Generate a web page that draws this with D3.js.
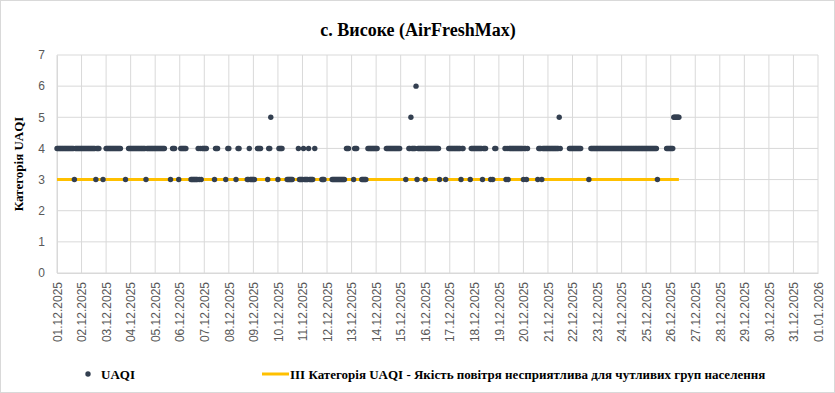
<!DOCTYPE html>
<html>
<head>
<meta charset="utf-8">
<script src="https://cdn.jsdelivr.net/npm/d3@7"></script>
<style>
body { margin: 0; background: #fff; }
svg { display: block; }
</style>
</head>
<body>
<div id="chart"></div>
<script>
// x axis tick labels (one per day)
var dayLabels = ["01.12.2025","02.12.2025","03.12.2025","04.12.2025","05.12.2025","06.12.2025","07.12.2025","08.12.2025",
"09.12.2025","10.12.2025","11.12.2025","12.12.2025","13.12.2025","14.12.2025","15.12.2025","16.12.2025","17.12.2025",
"18.12.2025","19.12.2025","20.12.2025","21.12.2025","22.12.2025","23.12.2025","24.12.2025","25.12.2025","26.12.2025",
"27.12.2025","28.12.2025","29.12.2025","30.12.2025","31.12.2025","01.01.2026"]
// hourly UAQI category, one string per day (00h..23h), "-" = no data
var uaqiHourly = [
"444444444444444443444444",
"444444444444443444---3--",
"444444444444444----3--44",
"444444444444444344444444",
"4444444444-----3-444---3",
"-444444----3333333434344",
"444-------3444-------3-4",
"4------3-44-------334333",
"33--4444------3445------",
"34444----333333-----4333",
"34333343333-4------333--",
"-----3333333333333-444--",
"--3444----33333-44444444",
"44--------44444444444444",
"-----3--4454444634444444",
"344444444444443-----3--4",
"44444444444344------3444",
"444444443444----3-3-44--",
"------434344444444444444",
"34434---------3444344444",
"4444444444454--------444",
"444444444-------3-444444",
"444444444444444444444444",
"444444444444444444444444",
"444444444443--------4444",
"444555555"
]
var yTicks = [0,1,2,3,4,5,6,7]
var thresholdLevel = 3
var titleText = "с. Високе (AirFreshMax)"
var yTitle = "Категорія UAQI"
var legendNames = ["UAQI", "III Категорія UAQI - Якість повітря несприятлива для чутливих груп населення"]

var W = 835, H = 393
var plot = {left: 57, right: 818, top: 55, bottom: 273}
var parseDay = d3.utcParse("%d.%m.%Y")
var dotColor = "#333f50", lineColor = "#ffc000", gridColor = "#d9d9d9", labelColor = "#595959"

var points = []
uaqiHourly.forEach(function(s, i) {
    var day = parseDay(dayLabels[i])
    s.split("").forEach(function(c, h) {
        if (c !== "-") points.push({t: d3.utcHour.offset(day, h), v: +c})
    })
})

var svg = d3.select("#chart").append("svg")
    .attr("width", W).attr("height", H)

svg.append("rect")
    .attr("x", 0.5).attr("y", 0.5)
    .attr("width", W - 1).attr("height", H - 1)
    .style("fill", "#fff").style("stroke", gridColor)

var x = d3.scaleUtc()
    .domain([parseDay(dayLabels[0]), parseDay(dayLabels[dayLabels.length - 1])])
    .range([plot.left, plot.right])
var y = d3.scaleLinear()
    .domain([0, 7])
    .range([plot.bottom, plot.top])

// grid
svg.append("g")
    .selectAll("line")
    .data(dayLabels)
    .enter().append("line")
    .attr("x1", function(d) { return x(parseDay(d)) })
    .attr("x2", function(d) { return x(parseDay(d)) })
    .attr("y1", plot.top).attr("y2", plot.bottom)
    .style("stroke", gridColor).style("stroke-width", 1)
svg.append("g")
    .selectAll("line")
    .data(yTicks)
    .enter().append("line")
    .attr("x1", plot.left).attr("x2", plot.right)
    .attr("y1", function(d) { return y(d) })
    .attr("y2", function(d) { return y(d) })
    .style("stroke", gridColor).style("stroke-width", 1)

// y axis
var yAxis = svg.append("g")
    .attr("transform", "translate(" + plot.left + ",0)")
    .call(d3.axisLeft(y).tickValues(yTicks).tickFormat(d3.format("d")).tickSize(0).tickPadding(12))
yAxis.select(".domain").style("stroke", gridColor)
yAxis.selectAll("text")
    .style("font-family", "Liberation Sans, Arial, sans-serif")
    .style("font-size", "12px")
    .style("fill", labelColor)

// x axis
var xAxis = svg.append("g")
    .attr("transform", "translate(0," + plot.bottom + ")")
    .call(d3.axisBottom(x).tickValues(dayLabels.map(parseDay)).tickSize(0)
        .tickFormat(function(d, i) { return dayLabels[i] }))
xAxis.select(".domain").style("stroke", gridColor)
xAxis.selectAll("text")
    .attr("transform", "rotate(-90)")
    .attr("text-anchor", "end")
    .attr("x", -9)
    .attr("y", 0)
    .attr("dy", "0.35em")
    .style("font-family", "Liberation Sans, Arial, sans-serif")
    .style("font-size", "12px")
    .style("fill", labelColor)

// threshold line
var tExtent = d3.extent(points, function(d) { return d.t })
svg.append("path")
    .datum(tExtent)
    .attr("d", d3.line().x(function(d) { return x(d) }).y(function() { return y(thresholdLevel) }))
    .style("stroke", lineColor)
    .style("stroke-width", 3)
    .style("fill", "none")

// UAQI points
svg.append("g")
    .selectAll("circle")
    .data(points)
    .enter().append("circle")
    .attr("cx", function(d) { return x(d.t) })
    .attr("cy", function(d) { return y(d.v) })
    .attr("r", 2.7)
    .style("fill", dotColor)

// titles
svg.append("text")
    .attr("x", 418).attr("y", 36)
    .attr("text-anchor", "middle")
    .style("font-family", "Liberation Serif, Times New Roman, serif")
    .style("font-weight", "bold")
    .style("font-size", "18px")
    .style("fill", "#000")
    .text(titleText)
svg.append("text")
    .attr("transform", "translate(23," + ((plot.top + plot.bottom) / 2) + ") rotate(-90)")
    .attr("text-anchor", "middle")
    .style("font-family", "Liberation Serif, Times New Roman, serif")
    .style("font-weight", "bold")
    .style("font-size", "13px")
    .style("fill", "#000")
    .text(yTitle)

// legend
var lg = svg.append("g")
lg.append("circle")
    .attr("cx", 88).attr("cy", 374).attr("r", 2.7)
    .style("fill", dotColor)
lg.append("text")
    .attr("x", 101).attr("y", 378.5)
    .style("font-family", "Liberation Serif, Times New Roman, serif")
    .style("font-weight", "bold").style("font-size", "13px")
    .text(legendNames[0])
lg.append("line")
    .attr("x1", 262).attr("x2", 289).attr("y1", 374).attr("y2", 374)
    .style("stroke", lineColor).style("stroke-width", 3)
lg.append("text")
    .attr("x", 290).attr("y", 378.5)
    .style("font-family", "Liberation Serif, Times New Roman, serif")
    .style("font-weight", "bold").style("font-size", "13px")
    .text(legendNames[1])
</script>
</body>
</html>
